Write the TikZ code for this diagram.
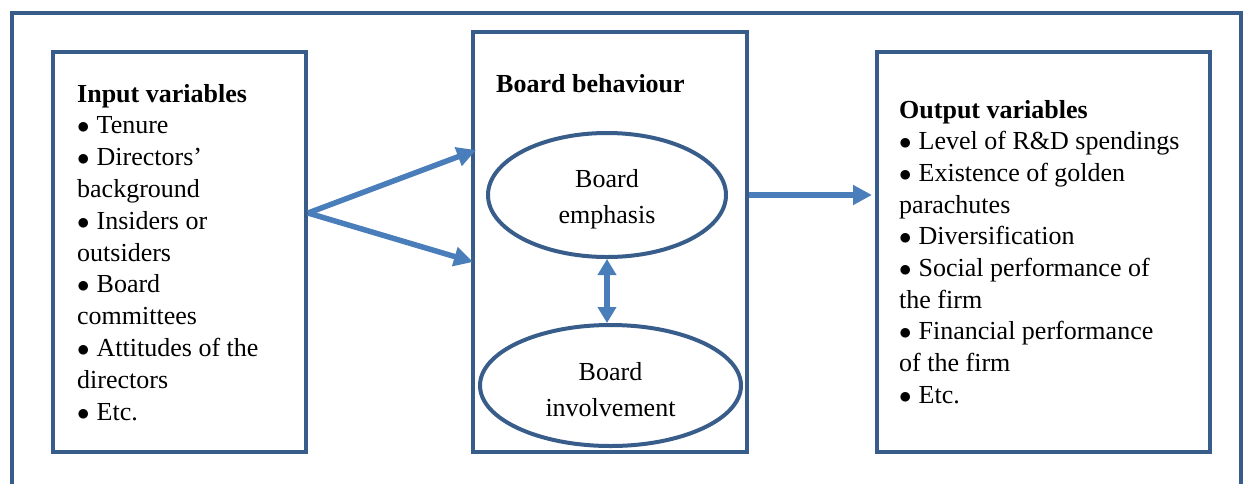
\documentclass[tikz,border=0pt]{standalone}
\usepackage{fontspec}
\setmainfont{Liberation Serif}
\usetikzlibrary{arrows.meta,calc,shapes.geometric}
\definecolor{frameblue}{HTML}{385D8A}
\definecolor{arrowblue}{HTML}{4A7EBB}

\begin{document}
\begin{tikzpicture}[x=1pt,y=-1pt,
  box/.style={draw=frameblue, line width=4pt, rectangle, inner sep=0pt},
  oval/.style={draw=frameblue, line width=4pt, ellipse, inner sep=0pt},
  ovaltxt/.style={inner sep=0pt, align=center, font=\fontsize{26}{36}\selectfont},
  txt/.style={anchor=base west, inner sep=0pt, font=\fontsize{26}{31.7}\selectfont},
  link/.style={draw=arrowblue, line width=5.5pt, -{Triangle[length=19pt,width=19pt]}},
  dlink/.style={draw=arrowblue, line width=5.5pt,
    {Triangle[length=16pt,width=18pt]}-{Triangle[length=16pt,width=18pt]}}]

\useasboundingbox (0,0) rectangle (1248,483);
\clip (0,0) rectangle (1248,483);

% outer frame, open at the bottom edge
\draw[frameblue, line width=4pt] (12,500) -- (12,13) -- (1241,13) -- (1241,500);

% the three panels
\node[box, minimum width=253pt, minimum height=400pt] (inbox) at (179.5,252) {};
\node[box, minimum width=274pt, minimum height=420pt] (behav) at (610,242) {};
\node[box, minimum width=333pt, minimum height=400pt] (outbox) at (1043.5,252) {};

% bulleted entry
\newcommand{\itm}[1]{\makebox[19.5pt][l]{$\bullet$}#1}

% input variables
\foreach \t [count=\k from 0] in {%
    {\textbf{Input variables}},
    {\itm{Tenure}},
    {\itm{Directors’}},
    {background},
    {\itm{Insiders or}},
    {outsiders},
    {\itm{Board}},
    {committees},
    {\itm{Attitudes of the}},
    {directors},
    {\itm{Etc.}}}
  \node[txt] (in-\k) at (77,102+31.8*\k) {\t};

% output variables
\foreach \t [count=\k from 0] in {%
    {\textbf{Output variables}},
    {\itm{Level of R\&D spendings}},
    {\itm{Existence of golden}},
    {parachutes},
    {\itm{Diversification}},
    {\itm{Social performance of}},
    {the firm},
    {\itm{Financial performance}},
    {of the firm},
    {\itm{Etc.}}}
  \node[txt] (out-\k) at (899,118+31.7*\k) {\t};

% board behaviour panel
\node[txt] (btitle) at (496,92) {\textbf{Board behaviour}};
\node[oval, minimum width=238pt, minimum height=124pt] (emph) at (607,195) {};
\node[oval, minimum width=261pt, minimum height=121pt] (invol) at (610.5,385.5) {};
\node[ovaltxt] (emph-txt) at (607,199) {Board\\emphasis};
\node[ovaltxt] (invol-txt) at (610.5,390) {Board\\involvement};

% connectors
\coordinate (fork) at (inbox.east |- 0,213);
\coordinate (upTip) at ($(behav.west |- 0,150)+(5,0)$);
\coordinate (loTip) at ($(behav.west |- 0,262)+(2,0)$);
\draw[link] (fork) -- (upTip);
\draw[link] (fork) -- (loTip);
\draw[link] (behav.east |- emph.center) -- ($(outbox.west |- emph.center)+(-3,0)$);
\draw[dlink] (emph.south) -- (emph.south |- invol.north);

\end{tikzpicture}
\end{document}
